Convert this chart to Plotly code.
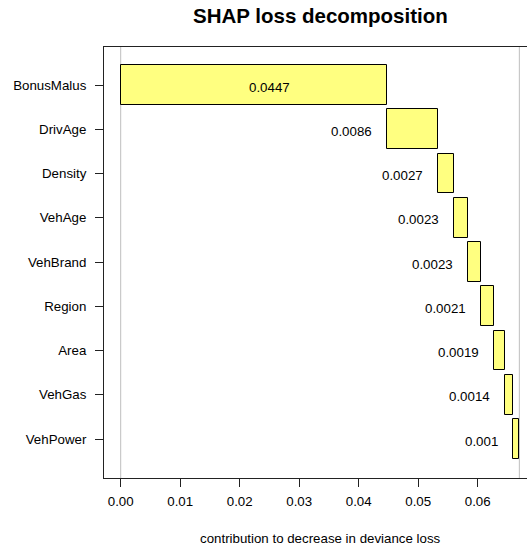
import plotly.graph_objects as go
import numpy as np

features = ["BonusMalus", "DrivAge", "Density", "VehAge", "VehBrand",
            "Region", "Area", "VehGas", "VehPower"]
contrib = [0.0447, 0.0086, 0.0027, 0.0023, 0.0023, 0.0021, 0.0019, 0.0014, 0.001]
x_ticks = [0.00, 0.01, 0.02, 0.03, 0.04, 0.05, 0.06]

contrib_arr = np.array(contrib)
ends = np.cumsum(contrib_arr)
starts = ends - contrib_arr
total = ends[-1]

FONT = "Liberation Sans, Arial, sans-serif"
W, H = 527, 546
L, R, T, B = 104, 0, 47, 68

fig = go.Figure()
fig.add_trace(go.Bar(
    y=features, x=contrib, base=starts, orientation="h",
    width=0.9,
    marker=dict(color="#FFFF80", line=dict(color="black", width=1)),
    hoverinfo="skip", showlegend=False,
))

# reference lines at zero and at total
for xv in [0.0, total]:
    fig.add_shape(type="line", xref="x", yref="paper", x0=xv, x1=xv, y0=0, y1=1,
                  line=dict(color="#BEBEBE", width=1), layer="below")

plot_h = H - T - B
plot_w = W - L - R

# value labels
for i, (f, v, s) in enumerate(zip(features, contrib, starts)):
    txt = f"{round(v, 4):g}"
    if i == 0:
        fig.add_annotation(x=s + v / 2, y=f, text=txt, showarrow=False,
                           xanchor="center", yanchor="middle", xshift=16, yshift=-2,
                           font=dict(family=FONT, size=13.3, color="black"))
    else:
        fig.add_annotation(x=s, y=f, text=txt, showarrow=False,
                           xanchor="right", yanchor="middle", xshift=-13, yshift=-2,
                           font=dict(family=FONT, size=13.3, color="black"))

# title
fig.add_annotation(xref="paper", yref="paper", x=(320 - L) / plot_w, y=1 + (T - 16) / plot_h,
                   text="<b>SHAP loss decomposition</b>", showarrow=False,
                   xanchor="center", yanchor="middle",
                   font=dict(family=FONT, size=20.5, color="black"))
# x axis title
fig.add_annotation(xref="paper", yref="paper", x=(320 - L) / plot_w, y=-(538 - (H - B)) / plot_h,
                   text="contribution to decrease in deviance loss", showarrow=False,
                   xanchor="center", yanchor="middle",
                   font=dict(family=FONT, size=13.3, color="black"))

px_per_unit = 5950.0
x_left = -(120.7 - L) / px_per_unit
x_right = (W - R - 120.7) / px_per_unit

n = len(features)
fig.update_layout(
    width=W, height=H,
    margin=dict(l=L, r=R, t=T, b=B, pad=0),
    paper_bgcolor="white", plot_bgcolor="white",
    font=dict(family=FONT, size=13.3, color="black"),
    bargap=0,
    xaxis=dict(range=[x_left, x_right], tickvals=x_ticks,
               ticktext=[f"{t:.2f}" for t in x_ticks],
               showgrid=False, zeroline=False,
               showline=True, linecolor="#222222", linewidth=1, mirror=True,
               ticks="outside", ticklen=8, tickcolor="#222222", tickwidth=1,
               ticklabelstandoff=3,
               tickfont=dict(family=FONT, size=13.3, color="black")),
    yaxis=dict(type="category", categoryorder="array", categoryarray=features,
               range=[n - 1 + 39 / 44.25, -38 / 44.25],
               showgrid=False, zeroline=False,
               showline=True, linecolor="#222222", linewidth=1, mirror=False,
               ticks="outside", ticklen=8, tickcolor="#222222", tickwidth=1,
               ticklabelstandoff=6,
               tickfont=dict(family=FONT, size=13.3, color="black")),
)

fig.write_html("out.html")
